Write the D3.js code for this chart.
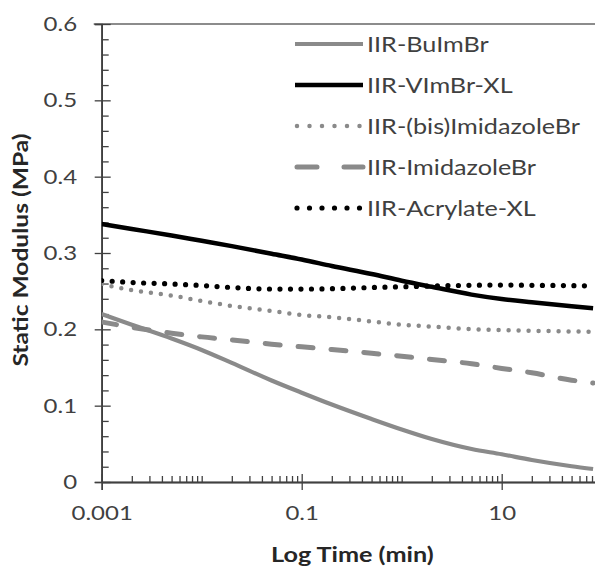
<!DOCTYPE html>
<html>
<head>
<meta charset="utf-8">
<script src="https://cdn.jsdelivr.net/npm/d3@7"></script>
<style>
  body { margin: 0; background: #fff; }
  svg { display: block; font-family: Lato, "Open Sans", sans-serif; }
</style>
</head>
<body>
<svg id="chart" width="595" height="568"></svg>
<script>
// log time (min)
var times = [0.001, 0.002, 0.005, 0.01, 0.02, 0.05, 0.1, 0.2, 0.5, 1, 2, 5, 10, 20, 50, 82];

var buImBr      = [0.220, 0.206, 0.188, 0.173, 0.156, 0.133, 0.117, 0.1015, 0.0825, 0.0688, 0.0563, 0.0432, 0.0363, 0.0288, 0.0206, 0.017];
var vImBrXL     = [0.338, 0.3315, 0.323, 0.316, 0.309, 0.299, 0.2915, 0.283, 0.2725, 0.2637, 0.2557, 0.2455, 0.2397, 0.2354, 0.2302, 0.2276];
var bisImidBr   = [0.2594, 0.2513, 0.2443, 0.2371, 0.2306, 0.224, 0.2188, 0.2158, 0.2103, 0.2061, 0.2035, 0.2002, 0.1991, 0.1981, 0.1972, 0.1968];
var imidBr      = [0.2096, 0.2027, 0.195, 0.1901, 0.1862, 0.1805, 0.1771, 0.1736, 0.1687, 0.1648, 0.1605, 0.1549, 0.1488, 0.1431, 0.1334, 0.1297];
var acrylateXL  = [0.264, 0.2614, 0.2594, 0.2574, 0.2548, 0.2528, 0.2528, 0.2532, 0.2548, 0.2558, 0.2567, 0.2577, 0.258, 0.2577, 0.2572, 0.2568];

var seriesNames = ["IIR-BuImBr", "IIR-VImBr-XL", "IIR-(bis)ImidazoleBr", "IIR-ImidazoleBr", "IIR-Acrylate-XL"];

var xMajor = [0.001, 0.1, 10];
var xMajorLabels = ["0.001", "0.1", "10"];
var yMajor = [0, 0.1, 0.2, 0.3, 0.4, 0.5, 0.6];
var yMinor = [0.02, 0.04, 0.06, 0.08, 0.12, 0.14, 0.16, 0.18, 0.22, 0.24, 0.26, 0.28,
              0.32, 0.34, 0.36, 0.38, 0.42, 0.44, 0.46, 0.48, 0.52, 0.54, 0.56, 0.58];

var svg = d3.select("#chart");
var W = 595;
var mLeft = 101.7, mTop = 24, mBottom = 482;
var stretch = 1.2;   // the original's text is a bit wide

var x = d3.scaleLog().domain([0.001, 100]).range([mLeft, mLeft + 500]);
var y = d3.scaleLinear().domain([0, 0.6]).range([mBottom, mTop]);

var grey = "#8a8a8a";
var axisColor = "#404040";

var styles = [
    {data: buImBr,     color: grey,   width: 4.2, dash: null,     cap: "butt",  lgDash: null},
    {data: vImBrXL,    color: "#000", width: 4.5, dash: null,     cap: "butt",  lgDash: null},
    {data: bisImidBr,  color: grey,   width: 4.5, dash: "0 10",   cap: "round", lgDash: "0 12.5"},
    {data: imidBr,     color: grey,   width: 5,   dash: "15 18",  cap: "round", lgDash: "20 27"},
    {data: acrylateXL, color: "#000", width: 5.2, dash: "0 10.5", cap: "round", lgDash: "0 12.5"}
];

svg.append("clipPath").attr("id", "plotclip")
  .append("rect").attr("x", mLeft).attr("y", 0).attr("width", W - mLeft).attr("height", mBottom + 2);

// top border
svg.append("line")
    .attr("x1", mLeft - 8).attr("x2", W)
    .attr("y1", y(0.6)).attr("y2", y(0.6))
    .attr("stroke", "#666").attr("stroke-width", 1.5);

// y axis: labels + outer part of major ticks
svg.append("g").attr("transform", "translate(" + mLeft + ",0)")
    .call(d3.axisLeft(y).tickValues(yMajor).tickSize(7).tickPadding(13.5)
        .tickFormat(function (d) { return d === 0 ? "0" : d3.format(".1f")(d); }));
svg.append("g").attr("transform", "translate(" + mLeft + ",0)")
    .call(d3.axisRight(y).tickValues(yMajor).tickSize(9).tickSizeOuter(0).tickFormat(""));
svg.append("g").attr("transform", "translate(" + mLeft + ",0)")
    .call(d3.axisRight(y).tickValues(yMinor).tickSize(7).tickSizeOuter(0).tickFormat(""));

// x axis
svg.append("g").attr("transform", "translate(0," + mBottom + ")")
    .call(d3.axisBottom(x).tickValues(xMajor).tickSize(8).tickPadding(16)
        .tickFormat(function (d, i) { return xMajorLabels[i]; }));
var xMinor = x.ticks().filter(function (t) {
    return !xMajor.some(function (m) { return Math.abs(m - t) / m < 1e-6; });
});
svg.append("g").attr("transform", "translate(0," + mBottom + ")")
    .call(d3.axisTop(x).tickValues(xMajor).tickSize(8).tickSizeOuter(0).tickFormat(""));
svg.append("g").attr("transform", "translate(0," + mBottom + ")")
    .call(d3.axisTop(x).tickValues(xMinor).tickSize(6).tickSizeOuter(0).tickFormat(""));

svg.selectAll(".domain").attr("stroke", axisColor).attr("stroke-width", 1.5);
svg.selectAll(".tick line").attr("stroke", axisColor).attr("stroke-width", 1.3);
svg.selectAll(".tick text").attr("fill", "#404040").style("font-size", "20px")
    .style("font-family", "Lato, 'Open Sans', sans-serif")
    .attr("transform", "scale(" + stretch + ",1)");

// axis titles
svg.append("text")
    .attr("transform", "translate(28," + ((mTop + mBottom) / 2 - 3) + ") rotate(-90) scale(" + stretch + ",1)")
    .attr("text-anchor", "middle")
    .attr("font-weight", "bold").attr("font-size", 20.5).attr("fill", "#262626")
    .text("Static Modulus (MPa)");
svg.append("text")
    .attr("transform", "translate(" + ((mLeft + W) / 2 + 4) + ",562) scale(" + stretch + ",1)")
    .attr("text-anchor", "middle")
    .attr("font-weight", "bold").attr("font-size", 21).attr("fill", "#262626")
    .text("Log Time (min)");

// series
var line = d3.line()
    .x(function (d) { return x(d[0]); })
    .y(function (d) { return y(d[1]); })
    .curve(d3.curveMonotoneX);

var plot = svg.append("g").attr("clip-path", "url(#plotclip)");
styles.forEach(function (s) {
    var pts = times.map(function (t, i) { return [t, s.data[i]]; });
    plot.append("path")
        .datum(pts)
        .attr("fill", "none")
        .attr("stroke", s.color)
        .attr("stroke-width", s.width)
        .attr("stroke-linecap", s.cap)
        .attr("stroke-dasharray", s.dash)
        .attr("d", line);
});

// legend
var legend = svg.append("g");
seriesNames.forEach(function (name, i) {
    var s = styles[i];
    var cy = 44 + i * 41;
    var g = legend.append("g");
    g.append("line")
        .attr("x1", s.dash ? 297 : 295).attr("x2", 363)
        .attr("y1", cy).attr("y2", cy)
        .attr("stroke", s.color)
        .attr("stroke-width", s.width)
        .attr("stroke-linecap", s.cap)
        .attr("stroke-dasharray", s.lgDash);
    g.append("text")
        .attr("transform", "translate(367," + (cy + 7.5) + ") scale(" + stretch + ",1)")
        .attr("font-size", 21).attr("fill", "#404040")
        .text(name);
});
</script>
</body>
</html>
